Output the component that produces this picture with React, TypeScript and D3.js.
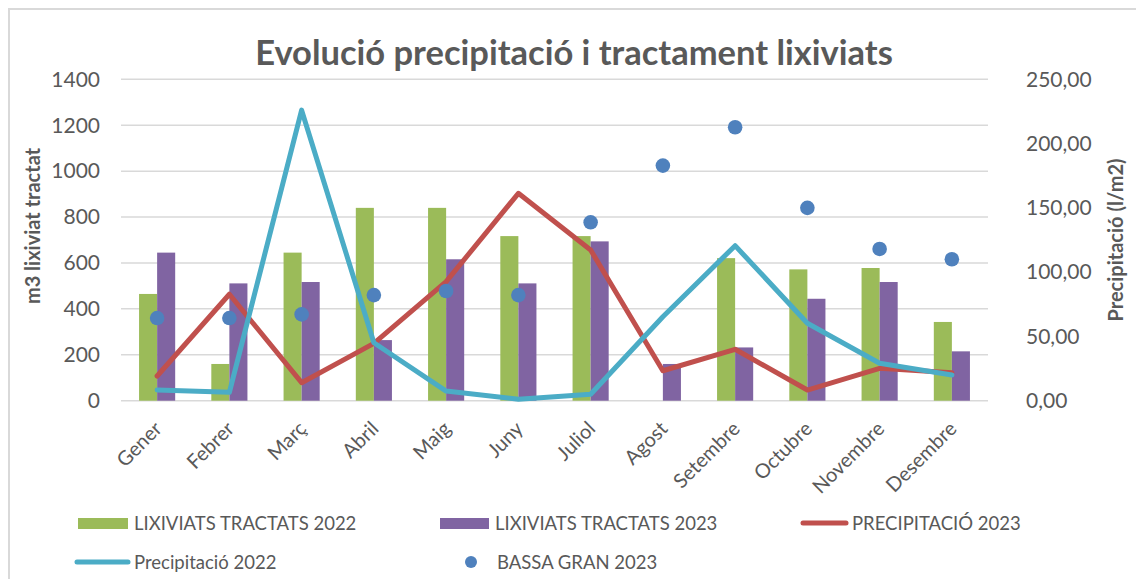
import React from 'react';
import * as d3 from 'd3';

const months = ['Gener', 'Febrer', 'Març', 'Abril', 'Maig', 'Juny', 'Juliol', 'Agost', 'Setembre', 'Octubre', 'Novembre', 'Desembre'];
const lixiviats2022 = [465, 160, 645, 840, 840, 717, 717, 0, 621, 572, 578, 343];
const lixiviats2023 = [645, 511, 517, 264, 616, 511, 694, 160, 232, 444, 517, 215];
const precip2023 = [19.2, 82.8, 14, 44.6, 92.6, 161.3, 117.2, 23.3, 40, 8.3, 25.2, 21.8];
const precip2022 = [8.3, 6.5, 226, 45.1, 7.5, 1.1, 5, 65.3, 120.6, 60.2, 29.1, 20];
const bassaGran2023 = [360, 360, 376, 460, 478, 460, 777, 1024, 1191, 840, 661, 616];
const leftTicks = [0, 200, 400, 600, 800, 1000, 1200, 1400];
const rightTicks = [0, 50, 100, 150, 200, 250];

const GREEN = '#9BBB59';
const PURPLE = '#8064A2';
const RED = '#C0504D';
const CYAN = '#4BACC6';
const BLUE = '#4F81BD';
const GREY = '#595959';
const FONT = 'Lato, "Open Sans", sans-serif';

export default function App() {
  const left = 121, right = 988, top = 79.3, bottom = 400.7;

  const x = d3.scaleBand<string>().domain(months).range([left, right]).paddingInner(0);
  const bw = x.bandwidth() * 0.25;
  const cx = (m: string) => (x(m) as number) + x.bandwidth() / 2;
  const yL = d3.scaleLinear().domain([0, 1400]).range([bottom, top]);
  const yR = d3.scaleLinear().domain([0, 250]).range([bottom, top]);

  const line = (vals: number[]) =>
    d3.line<number>()
      .x((d, i) => cx(months[i]))
      .y(d => yR(d))(vals) as string;

  const fmtR = (v: number) => d3.format('.2f')(v).replace('.', ',');

  return (
    <svg width={1136} height={579} style={{ position: 'absolute', left: 0, top: 0, background: '#fff' }} fontFamily={FONT}>
      <rect x={9} y={9} width={1300} height={800} fill="#fff" stroke="#D9D9D9" strokeWidth={2} />

      <text x={574} y={65} textAnchor="middle" fontSize={34.5} fontWeight="bold" fill={GREY}>
        Evolució precipitació i tractament lixiviats
      </text>

      {/* gridlines */}
      {leftTicks.map(t => (
        <line key={t} x1={left} x2={right} y1={yL(t)} y2={yL(t)} stroke="#D9D9D9" strokeWidth={1.5} />
      ))}

      {/* left axis */}
      {leftTicks.map(t => (
        <text key={'l' + t} x={100} y={yL(t)} dy="0.35em" textAnchor="end" fontSize={21} fill={GREY}>{t}</text>
      ))}
      <text transform={`translate(40,226) rotate(-90)`} textAnchor="middle" fontSize={20} fontWeight="bold" fill={GREY}>
        m3 lixiviat tractat
      </text>

      {/* right axis */}
      {rightTicks.map(t => (
        <text key={'r' + t} x={1026} y={yR(t)} dy="0.35em" textAnchor="start" fontSize={21} fill={GREY}>{fmtR(t)}</text>
      ))}
      <text transform={`translate(1123,240) rotate(-90)`} textAnchor="middle" fontSize={20} fontWeight="bold" fill={GREY}>
        Precipitació (l/m2)
      </text>

      {/* bars */}
      {months.map((m, i) => (
        <g key={m}>
          <rect x={cx(m) - bw} y={yL(lixiviats2022[i])} width={bw} height={bottom - yL(lixiviats2022[i])} fill={GREEN} />
          <rect x={cx(m)} y={yL(lixiviats2023[i])} width={bw} height={bottom - yL(lixiviats2023[i])} fill={PURPLE} />
        </g>
      ))}

      <path d={line(precip2023)} fill="none" stroke={RED} strokeWidth={5} strokeLinejoin="round" strokeLinecap="round" />
      <path d={line(precip2022)} fill="none" stroke={CYAN} strokeWidth={5} strokeLinejoin="round" strokeLinecap="round" />

      {months.map((m, i) => (
        <circle key={'c' + m} cx={cx(m)} cy={yL(bassaGran2023[i])} r={7.3} fill={BLUE} />
      ))}

      {/* x labels */}
      {months.map(m => (
        <text key={'x' + m} transform={`translate(${cx(m) + 6},430) rotate(-45)`} textAnchor="end" fontSize={20} fill={GREY}>
          {m}
        </text>
      ))}

      {/* legend */}
      <g fontSize={18.5} fill={GREY}>
        <rect x={78} y={518} width={50} height={11} fill={GREEN} />
        <text x={134} y={530}>LIXIVIATS TRACTATS 2022</text>
        <rect x={440} y={518} width={49} height={11} fill={PURPLE} />
        <text x={495} y={530}>LIXIVIATS TRACTATS 2023</text>
        <line x1={803} x2={846} y1={523} y2={523} stroke={RED} strokeWidth={5} strokeLinecap="round" />
        <text x={852} y={530}>PRECIPITACIÓ 2023</text>
        <line x1={77} x2={128} y1={562} y2={562} stroke={CYAN} strokeWidth={5} strokeLinecap="round" />
        <text x={134} y={569}>Precipitació 2022</text>
        <circle cx={471} cy={562} r={6} fill={BLUE} />
        <text x={497} y={569}>BASSA GRAN 2023</text>
      </g>
    </svg>
  );
}
